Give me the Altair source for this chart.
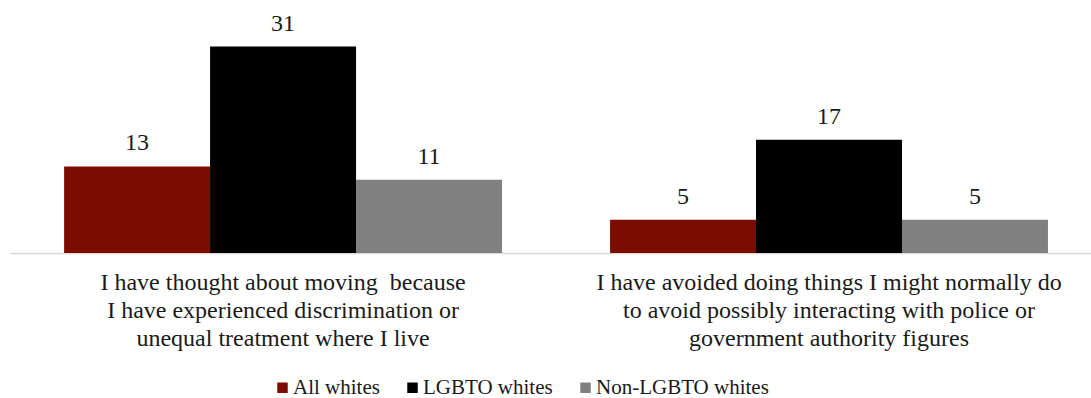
import altair as alt
import pandas as pd

# Survey statements (axis categories), one line break per wrapped line
categories = [
    "I have thought about moving\u00a0 because\nI have experienced discrimination or\nunequal treatment where I live",
    "I have avoided doing things I might normally do\nto avoid possibly interacting with police or\ngovernment authority figures",
]
series = ["All whites", "LGBTO whites", "Non-LGBTO whites"]
colors = ["#7B0C00", "#000000", "#808080"]

# Percent values per series, in category order
all_whites = [13, 5]
lgbto_whites = [31, 17]
non_lgbto_whites = [11, 5]

rows = []
for s, vals in zip(series, [all_whites, lgbto_whites, non_lgbto_whites]):
    for c, v in zip(categories, vals):
        rows.append({"category": c, "series": s, "value": v})
df = pd.DataFrame(rows)

FONT = "Liberation Serif"
TEXT_COLOR = "#1a1a1a"

x_enc = alt.X(
    "category:N",
    sort=categories,
    title=None,
    scale=alt.Scale(paddingInner=0.198, paddingOuter=0.089, align=0.557),
    axis=alt.Axis(
        labelAngle=0,
        labelExpr="split(datum.label, '\\n')",
        labelFont=FONT,
        labelFontSize=24,
        labelColor=TEXT_COLOR,
        labelLineHeight=28,
        labelPadding=17,
        labelLimit=600,
        ticks=False,
        domainColor="#d9d9d9",
        domainWidth=1.5,
        grid=False,
    ),
)
xoff_enc = alt.XOffset("series:N", sort=series, scale=alt.Scale(paddingInner=0, paddingOuter=0))
y_enc = alt.Y("value:Q", scale=alt.Scale(domain=[0, 38], nice=False), axis=None)

bars = alt.Chart(df).mark_bar(size=146).encode(
    x=x_enc,
    xOffset=xoff_enc,
    y=y_enc,
    color=alt.Color(
        "series:N",
        sort=series,
        scale=alt.Scale(domain=series, range=colors),
        legend=alt.Legend(
            title=None,
            orient="none",
            legendX=262,
            legendY=377,
            direction="horizontal",
            symbolType="square",
            symbolSize=110,
            symbolStrokeWidth=0,
            labelFont=FONT,
            labelFontSize=21,
            labelColor=TEXT_COLOR,
            labelOffset=0,
            labelLimit=400,
            columnPadding=22,
        ),
    ),
)

labels = alt.Chart(df).mark_text(
    font=FONT, fontSize=24, dy=-16, baseline="alphabetic", color=TEXT_COLOR
).encode(
    x=alt.X("category:N", sort=categories),
    xOffset=alt.XOffset("series:N", sort=series),
    y=alt.Y("value:Q"),
    text=alt.Text("value:Q"),
)

chart = (
    alt.layer(bars, labels)
    .properties(width=1081, height=253, padding={"left": 10, "top": 0, "right": 0, "bottom": 0})
    .configure(background="white", font=FONT)
    .configure_view(strokeWidth=0, stroke="transparent")
)

chart.save("out.html", embed_options={"renderer": "svg", "actions": False})
